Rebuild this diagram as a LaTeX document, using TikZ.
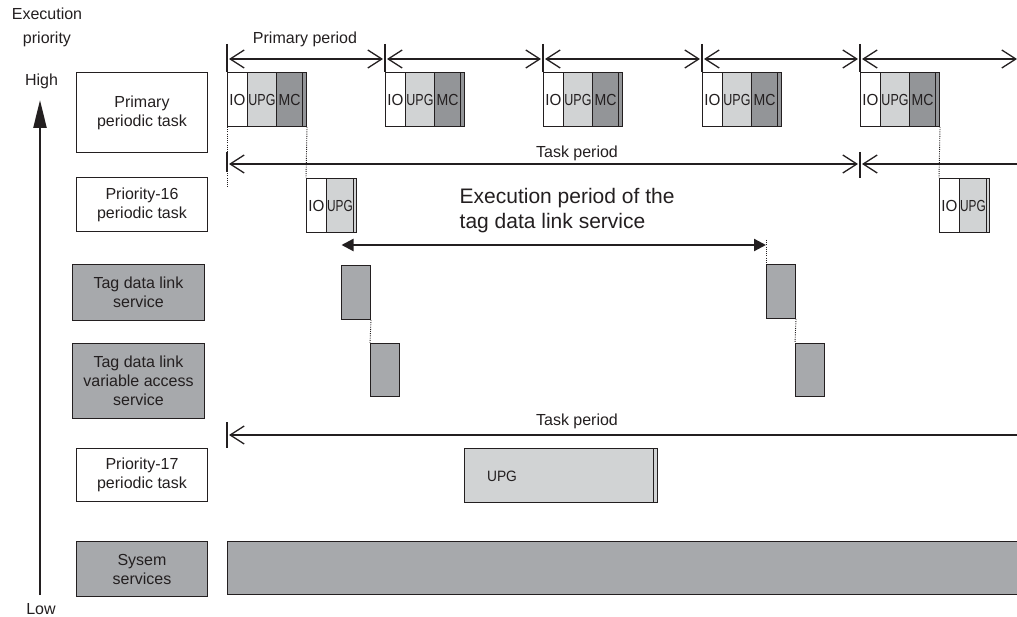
\documentclass[tikz,border=0pt]{standalone}
\usepackage{fontspec}
\usepackage{graphicx}
\setmainfont{Liberation Sans}
\usetikzlibrary{arrows.meta}
\definecolor{lc}{HTML}{231F20}
\definecolor{upgc}{HTML}{D1D3D4}
\definecolor{mcc}{HTML}{939598}
\definecolor{svc}{HTML}{A7A9AC}
\newcommand{\hs}[2]{\scalebox{#1}[1]{#2}}
\begin{document}
\begin{tikzpicture}[x=1pt,y=-1pt]
\tikzset{
 bx/.style={draw=lc, line width=1pt, inner sep=0pt, anchor=north west},
 lab/.style={bx, align=center, text=lc, font=\fontsize{16}{19}\selectfont},
 cellt/.style={bx, text=lc, font=\fontsize{16}{16}\selectfont},
 txt/.style={text=lc, inner sep=0pt, font=\fontsize{16}{19}\selectfont},
 tk/.style={draw=lc, line width=1.1pt},
 barbs/.style={draw=lc, line width=1.3pt, arrows={Straight Barb[length=14pt,width=18pt]-Straight Barb[length=14pt,width=18pt]}},
 lbarb/.style={draw=lc, line width=1.3pt, arrows={Straight Barb[length=14pt,width=18pt]-}},
 dot/.style={draw=lc, line width=0.9pt, dash pattern=on 1pt off 1.2pt},
}
\useasboundingbox (0,0) rectangle (1017,617);

% axis
\node[txt, align=center, font=\fontsize{16}{24}\selectfont] (ep) at (47,27) {Execution\\priority};
\node[txt] (high) at (41.5,81) {High};
\node[txt] (low) at (41,609) {Low};
\coordinate (axb) at (40,595);
\coordinate (axt) at (40,100);
\draw[draw=lc, line width=2.4pt, arrows={-Triangle[length=28pt,width=13pt]}] (axb) -- (axt);

% left labels
\node[lab, minimum width=131pt, minimum height=80pt] (prim) at (76,72) {Primary\\periodic task};
\node[lab, minimum width=131pt, minimum height=54pt] (p16) at (76,177) {Priority-16\\periodic task};
\node[lab, fill=svc, minimum width=132pt, minimum height=56pt] (tdl) at (72,264) {Tag data link\\service};
\node[lab, fill=svc, minimum width=132pt, minimum height=75pt] (tdv) at (72,343) {Tag data link\\variable access\\service};
\node[lab, minimum width=131pt, minimum height=53pt] (p17) at (76,448) {Priority-17\\periodic task};
\node[lab, fill=svc, minimum width=131pt, minimum height=55pt] (sys) at (76,541) {Sysem\\services};

% primary periodic task blocks
\foreach \i/\x in {1/227,2/385,3/543,4/702,5/860}{
  \node[cellt, fill=white, minimum width=20pt, minimum height=54pt] (pio\i) at (\x,72) {\hs{0.95}{IO}};
  \node[cellt, fill=upgc, minimum width=29pt, minimum height=54pt] (pupg\i) at (\x+20,72) {\hs{0.78}{UPG}};
  \node[cellt, fill=mcc, minimum width=26pt, minimum height=54pt] (pmc\i) at (\x+49,72) {\hs{0.88}{MC}};
  \node[cellt, fill=mcc, minimum width=4pt, minimum height=54pt] (ps\i) at (\x+75,72) {};
}

% primary period arrows
\node[txt] (pplab) at (305,39) {Primary period};
\foreach \i/\x/\y in {1/227/385,2/385/543,3/543/702,4/702/860,5/860/1019}{
  \coordinate (tka\i) at (\x,44);
  \coordinate (pa\i) at (\x+2,59);
  \coordinate (pb\i) at (\y-2,59);
  \draw[tk] (tka\i) -- (pio\i.north west);
  \draw[barbs] (pa\i) -- (pb\i);
}

% upper task period
\node[txt] (tplab1) at (577,153) {Task period};
\coordinate (ut0a) at (227,152);
\coordinate (ut0b) at (227,172);
\coordinate (ut1a) at (860,152);
\coordinate (ut1b) at (860,178);
\coordinate (ua1) at (229,164);
\coordinate (ub1) at (858,164);
\coordinate (ua2) at (862,164);
\coordinate (ub2) at (1020,164);
\coordinate (d0) at (227,188);
\draw[dot] (pio1.south west) -- (d0);
\draw[tk] (ut0a) -- (ut0b);
\draw[tk] (ut1a) -- (ut1b);
\draw[barbs] (ua1) -- (ub1);
\draw[lbarb] (ua2) -- (ub2);

% priority-16 blocks
\foreach \i/\x in {1/306,2/939}{
  \node[cellt, fill=white, minimum width=20pt, minimum height=54pt] (qio\i) at (\x,178) {\hs{0.95}{IO}};
  \node[cellt, fill=upgc, minimum width=27pt, minimum height=54pt] (qupg\i) at (\x+20,178) {\hs{0.74}{UPG}};
  \node[cellt, fill=upgc, minimum width=3pt, minimum height=54pt] (qs\i) at (\x+47,178) {};
}
\draw[dot] (ps1.south east) -- (qio1.north west);
\draw[dot] (ps5.south east) -- (qio2.north west);

% execution period of tag data link service
\node[txt, anchor=west, align=left, font=\fontsize{21}{25}\selectfont] (exlab) at (459.5,211) {Execution period of the\\tag data link service};

\node[bx, fill=svc, minimum width=29pt, minimum height=54pt] (tag1) at (341,265) {};
\node[bx, fill=svc, minimum width=29pt, minimum height=53pt] (var1) at (370,343) {};
\node[bx, fill=svc, minimum width=29pt, minimum height=54pt] (tag2) at (766,264) {};
\node[bx, fill=svc, minimum width=29pt, minimum height=53pt] (var2) at (795,343) {};

\coordinate (eL) at (341.5,245);
\coordinate (eR) at (766,245);
\coordinate (eTop) at (766,240);
\draw[draw=lc, line width=2.2pt, arrows={Triangle[length=12pt,width=12pt]-Triangle[length=12pt,width=12pt]}] (eL) -- (eR);
\draw[dot] (eTop) -- (tag2.north west);
\draw[dot] (tag1.south east) -- (var1.north west);
\draw[dot] (tag2.south east) -- (var2.north west);

% lower task period
\node[txt] (tplab2) at (577,421) {Task period};
\coordinate (lt0a) at (227,422);
\coordinate (lt0b) at (227,448);
\coordinate (la) at (229,435);
\coordinate (lb) at (1020,435);
\draw[tk] (lt0a) -- (lt0b);
\draw[lbarb] (la) -- (lb);

% priority-17 block
\node[bx, fill=upgc, minimum width=189pt, minimum height=54pt] (r17) at (464,448) {};
\node[bx, fill=upgc, minimum width=4pt, minimum height=54pt] (r17s) at (653,448) {};
\node[txt, font=\fontsize{15}{15}\selectfont] (r17lab) at (502,476) {\hs{0.92}{UPG}};

% system services bar
\node[bx, fill=svc, minimum width=800pt, minimum height=53pt] (sysbar) at (227,541) {};
\end{tikzpicture}
\end{document}
